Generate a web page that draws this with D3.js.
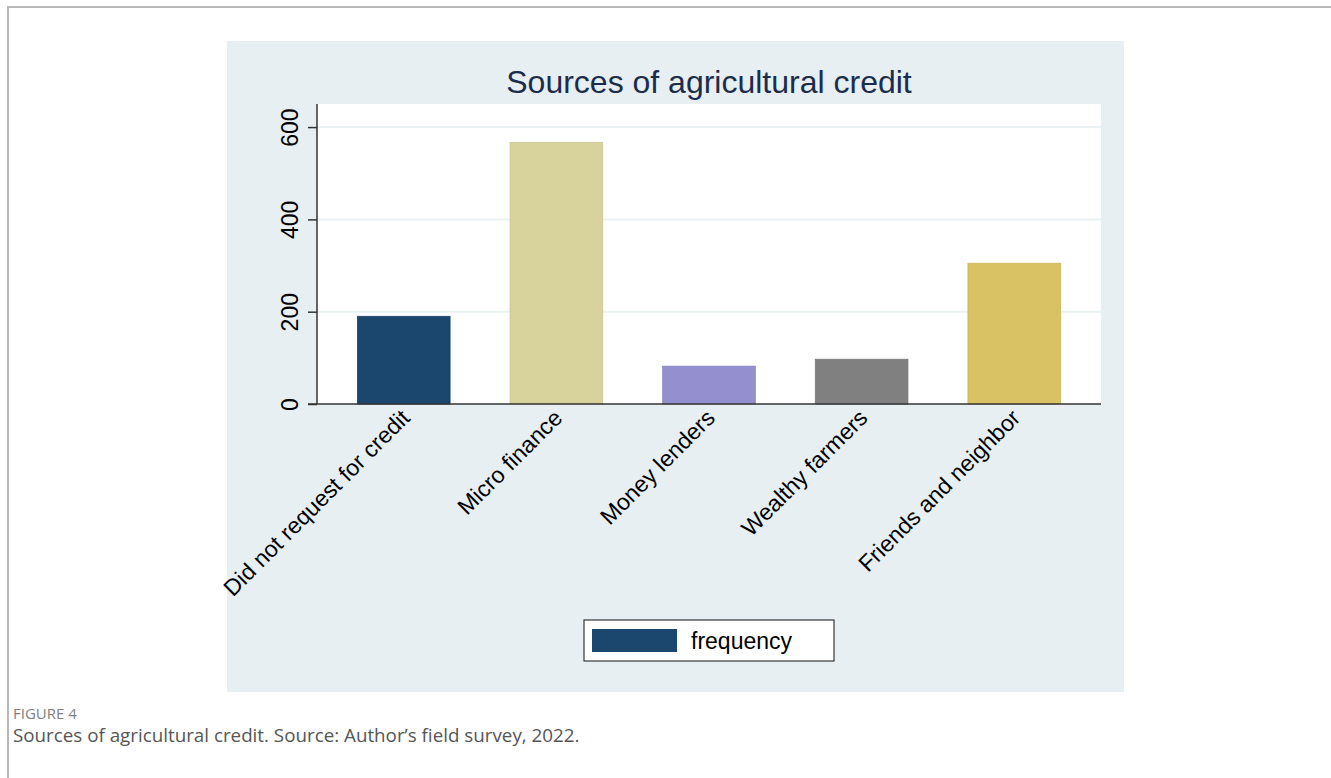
<!DOCTYPE html>
<html>
<head>
<meta charset="utf-8">
<script src="https://cdn.jsdelivr.net/npm/d3@7"></script>
<style>
    body { margin: 0; background: #ffffff; }
    svg { display: block; }
</style>
</head>
<body>
<div id="chart"></div>
<script>

// categories and counts
var categories = ["Did not request for credit", "Micro finance", "Money lenders",
                  "Wealthy farmers", "Friends and neighbor"];
var frequency = [190, 567, 82, 97, 305];
var barColors = ["#1b476f", "#d8d29d", "#948fcf", "#808080", "#d9c264"];
var yTicks = [0, 200, 400, 600];

var width = 1331,
    height = 778;

var svg = d3.select("#chart").append("svg")
    .attr("width", width)
    .attr("height", height);

// page frame
svg.append("line")
    .attr("x1", 7).attr("x2", width).attr("y1", 7).attr("y2", 7)
    .style("stroke", "#b8b8b8").style("stroke-width", 2);
svg.append("line")
    .attr("x1", 8).attr("x2", 8).attr("y1", 7).attr("y2", height)
    .style("stroke", "#b8b8b8").style("stroke-width", 2);

// graph region
svg.append("rect")
    .attr("x", 227).attr("y", 41)
    .attr("width", 1124 - 227).attr("height", 692 - 41)
    .style("fill", "#e8eff2");

var plot = {left: 317, right: 1101, top: 104, bottom: 404};

svg.append("rect")
    .attr("x", plot.left).attr("y", plot.top)
    .attr("width", plot.right - plot.left).attr("height", plot.bottom - plot.top)
    .style("fill", "#ffffff");

var x = d3.scaleBand()
    .domain(categories)
    .range([plot.left, plot.right])
    .paddingInner(0.393)
    .paddingOuter(0.265);

var y = d3.scaleLinear()
    .domain([0, 650])
    .range([plot.bottom, plot.top]);

// gridlines
svg.append("g")
    .selectAll("line")
    .data(yTicks.filter(function(d) { return d > 0; }))
    .enter().append("line")
    .attr("x1", plot.left).attr("x2", plot.right)
    .attr("y1", function(d) { return y(d); })
    .attr("y2", function(d) { return y(d); })
    .style("stroke", "#eaf2f3")
    .style("stroke-width", 2);

// bars
svg.append("g")
    .selectAll("rect")
    .data(frequency)
    .enter().append("rect")
    .attr("x", function(d, i) { return x(categories[i]); })
    .attr("y", function(d) { return y(d); })
    .attr("width", x.bandwidth())
    .attr("height", function(d) { return y(0) - y(d); })
    .style("fill", function(d, i) { return barColors[i]; })
    .style("stroke", function(d, i) { return d3.color(barColors[i]).darker(0.2); })
    .style("stroke-width", 0.8);

// y axis
var yAxis = d3.axisLeft(y)
    .tickValues(yTicks)
    .tickSize(9)
    .tickFormat(d3.format("d"));

var yg = svg.append("g")
    .attr("transform", "translate(" + plot.left + ",0)")
    .call(yAxis);

yg.select(".domain")
    .attr("d", "M0," + plot.top + "V" + plot.bottom)
    .style("stroke", "#333333")
    .style("stroke-width", 1.5);
yg.selectAll(".tick line")
    .style("stroke", "#333333")
    .style("stroke-width", 1.5);
yg.selectAll(".tick text")
    .attr("x", null).attr("dy", null)
    .attr("transform", "translate(-19,0) rotate(-90)")
    .attr("text-anchor", "middle")
    .style("font-family", "Liberation Sans, Arial, sans-serif")
    .style("font-size", "23px")
    .style("fill", "#000000");

// x axis
var xAxis = d3.axisBottom(x).tickSize(0);

var xg = svg.append("g")
    .attr("transform", "translate(0," + plot.bottom + ")")
    .call(xAxis);

xg.select(".domain")
    .attr("d", "M" + (plot.left - 9) + ",0H" + plot.right)
    .style("stroke", "#333333")
    .style("stroke-width", 1.5);
xg.selectAll(".tick text")
    .attr("y", null).attr("dy", null)
    .attr("transform", "translate(-4,4) rotate(-45)")
    .attr("dy", "0.7em")
    .attr("text-anchor", "end")
    .style("font-family", "Liberation Sans, Arial, sans-serif")
    .style("font-size", "23px")
    .style("fill", "#000000");

// title
svg.append("text")
    .attr("x", (plot.left + plot.right) / 2)
    .attr("y", 93)
    .attr("text-anchor", "middle")
    .style("font-family", "Liberation Sans, Arial, sans-serif")
    .style("font-size", "32px")
    .style("fill", "#1c2c4d")
    .text("Sources of agricultural credit");

// legend
var legend = svg.append("g");
legend.append("rect")
    .attr("x", 584).attr("y", 620)
    .attr("width", 250).attr("height", 41)
    .style("fill", "#ffffff")
    .style("stroke", "#111111")
    .style("stroke-width", 1);
legend.append("rect")
    .attr("x", 592).attr("y", 629)
    .attr("width", 85).attr("height", 23)
    .style("fill", barColors[0]);
legend.append("text")
    .attr("x", 691).attr("y", 649)
    .style("font-family", "Liberation Sans, Arial, sans-serif")
    .style("font-size", "23px")
    .style("fill", "#000000")
    .text("frequency");

// caption
svg.append("text")
    .attr("x", 13).attr("y", 719)
    .style("font-family", "Open Sans, sans-serif")
    .style("font-size", "15px")
    .style("fill", "#808080")
    .text("FIGURE 4");
svg.append("text")
    .attr("x", 13).attr("y", 742)
    .style("font-family", "Open Sans, sans-serif")
    .style("font-size", "18.8px")
    .style("fill", "#555555")
    .text("Sources of agricultural credit. Source: Author\u2019s field survey, 2022.");

</script>
</body>
</html>
